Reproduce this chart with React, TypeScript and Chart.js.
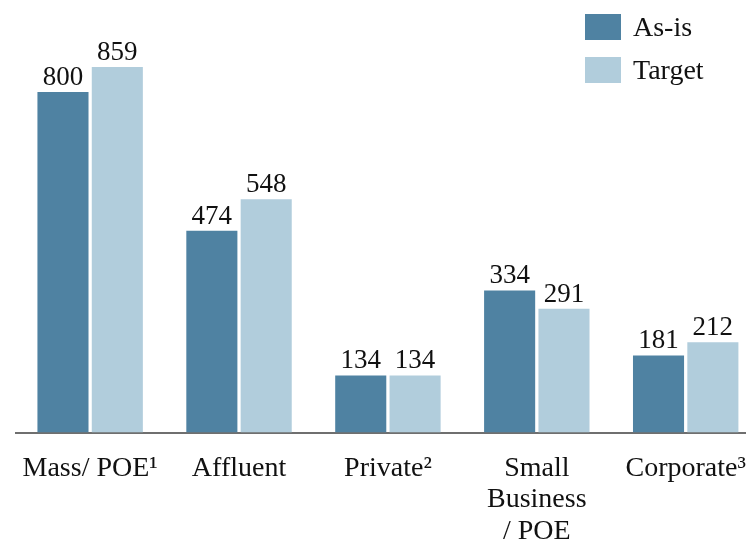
import React, { useEffect, useRef } from "react";
import { Chart, registerables } from "chart.js";

Chart.register(...registerables);

const categories: (string | string[])[] = [
  "Mass/ POE\u00B9",
  "Affluent",
  "Private\u00B2",
  ["Small", "Business", "/ POE"],
  "Corporate\u00B3",
];
const asIsValues = [800, 474, 134, 334, 181];
const targetValues = [859, 548, 134, 291, 212];
const seriesNames = ["As-is", "Target"];

const DARK = "#4f82a2";
const LIGHT = "#b1cddc";
const FONT = "'Liberation Serif', 'Times New Roman', serif";

const valueLabels = {
  id: "valueLabels",
  afterDatasetsDraw(chart: any) {
    const ctx = chart.ctx;
    ctx.save();
    ctx.font = `27px ${FONT}`;
    ctx.fillStyle = "#111";
    ctx.textAlign = "center";
    ctx.textBaseline = "alphabetic";
    chart.data.datasets.forEach((ds: any, i: number) => {
      const meta = chart.getDatasetMeta(i);
      meta.data.forEach((bar: any, j: number) => {
        ctx.fillText(String(ds.data[j]), bar.x, bar.y - 7);
      });
    });
    ctx.restore();
  },
};

export default function App() {
  const ref = useRef<HTMLCanvasElement>(null);
  useEffect(() => {
    if (!ref.current) return;
    const chart = new Chart(ref.current, {
      type: "bar",
      data: {
        labels: categories,
        datasets: [
          { label: seriesNames[0], data: asIsValues, backgroundColor: DARK, borderWidth: 0 },
          { label: seriesNames[1], data: targetValues, backgroundColor: LIGHT, borderWidth: 0 },
        ],
      },
      options: {
        responsive: false,
        animation: false,
        devicePixelRatio: 1,
        layout: { padding: { left: 15.7, right: 1.3, top: 7, bottom: 0 } },
        datasets: { bar: { barPercentage: 0.94, categoryPercentage: 0.73 } },
        plugins: { legend: { display: false }, tooltip: { enabled: false } },
        scales: {
          x: {
            grid: { display: true, drawOnChartArea: false, drawTicks: false },
            border: { display: true, color: "#6f6f6f", width: 2 },
            ticks: {
              color: "#111",
              padding: 20,
              maxRotation: 0,
              autoSkip: false,
              font: { family: FONT, size: 28, lineHeight: 1.125 },
            },
          },
          y: { display: false, min: 0, max: 1000 },
        },
      },
      plugins: [valueLabels],
    });
    return () => chart.destroy();
  }, []);

  const legendRow = (color: string, text: string, top: number) => (
    <div
      style={{
        position: "absolute",
        left: 585,
        top,
        height: 26,
        display: "flex",
        alignItems: "center",
        whiteSpace: "nowrap",
      }}
    >
      <div style={{ width: 36, height: 26, background: color }} />
      <span style={{ marginLeft: 12, fontFamily: FONT, fontSize: 28, color: "#111", lineHeight: "26px" }}>
        {text}
      </span>
    </div>
  );

  return (
    <div
      style={{
        position: "fixed",
        left: 0,
        top: 0,
        width: 746,
        height: 540,
        overflow: "hidden",
        background: "#fff",
      }}
    >
      <canvas ref={ref} width={766} height={567} style={{ display: "block", position: "absolute", left: 0, top: 0 }} />
      {legendRow(DARK, seriesNames[0], 14)}
      {legendRow(LIGHT, seriesNames[1], 57)}
    </div>
  );
}
